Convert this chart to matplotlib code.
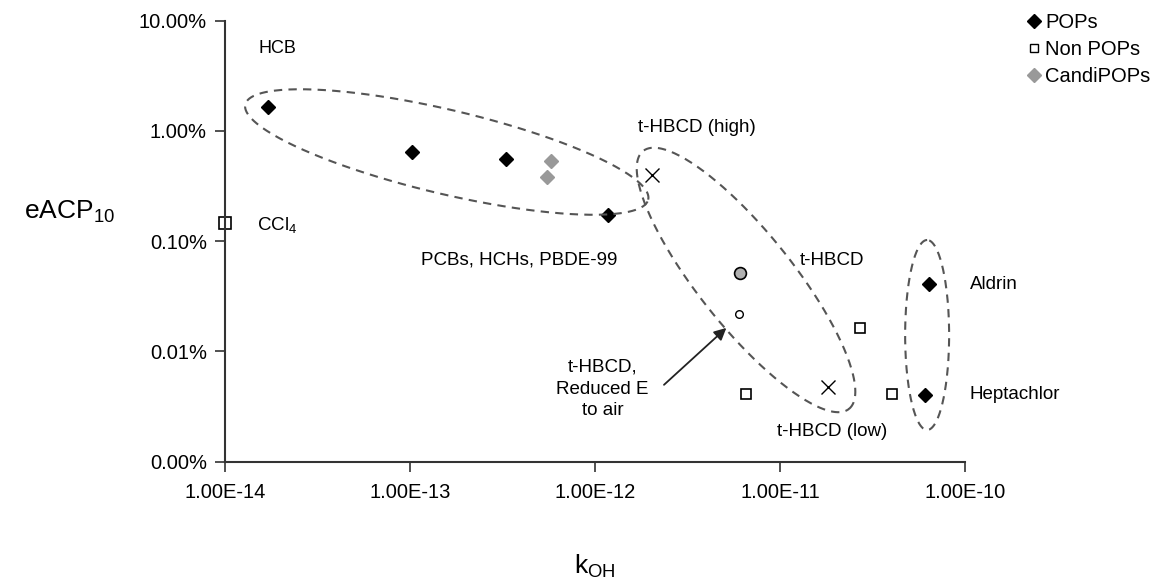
import numpy as np
import matplotlib
matplotlib.use("Agg")
import matplotlib.pyplot as plt
from matplotlib.lines import Line2D

plt.rcParams['font.family'] = ['Liberation Sans', 'DejaVu Sans']
plt.rcParams['mathtext.fontset'] = 'custom'
plt.rcParams['mathtext.rm'] = 'Liberation Sans'
plt.rcParams['mathtext.default'] = 'regular'

# data (kOH, eACP10 as fraction)
pops_k = [1.71e-14, 1.03e-13, 3.29e-13, 1.18e-12, 6.38e-11, 6.08e-11]
pops_e = [1.64e-2, 6.48e-3, 5.53e-3, 1.72e-3, 4.09e-4, 4.03e-5]

nonpops_k = [6.55e-12, 2.69e-11, 4.02e-11]
nonpops_e = [4.11e-5, 1.64e-4, 4.11e-5]

ccl4_k = [1.0e-14]
ccl4_e = [1.45e-3]

candi_k = [5.77e-13, 5.52e-13]
candi_e = [5.37e-3, 3.80e-3]

hbcd_k = [2.02e-12, 1.82e-11]      # high / low
hbcd_e = [3.98e-3, 4.79e-5]

hbcd_mid_k = [6.08e-12]
hbcd_mid_e = [5.18e-4]
hbcd_red_k = [6.0e-12]
hbcd_red_e = [2.19e-4]

fig = plt.figure(figsize=(11.61, 5.88), dpi=100)
ax = fig.add_axes([0.1938, 0.2148, 0.6374, 0.75])

ax.plot(pops_k, pops_e, 'D', color='black', ms=7, ls='none')
ax.plot(nonpops_k, nonpops_e, 's', mfc='white', mec='black', ms=6.5, mew=1.2, ls='none')
ax.plot(ccl4_k, ccl4_e, 's', mfc='white', mec='black', ms=9, mew=1.2, ls='none', clip_on=False)
ax.plot(candi_k, candi_e, 'D', color='#999999', ms=7, ls='none')
ax.plot(hbcd_k, hbcd_e, 'x', color='black', ms=10, mew=1, ls='none')
ax.plot(hbcd_mid_k, hbcd_mid_e, 'o', mfc='#b0b0b0', mec='black', ms=8.5, mew=1.2, ls='none')
ax.plot(hbcd_red_k, hbcd_red_e, 'o', mfc='white', mec='black', ms=5.5, mew=1, ls='none')

ax.set_xscale('log')
ax.set_yscale('log')
ax.set_xlim(1e-14, 1e-10)
ax.set_ylim(1e-5, 1e-1)

# dashed group ellipses, drawn in pixel-like space so they stay round on log axes
W = fig.get_figwidth() * fig.dpi * 0.6374 / 4      # px per x decade
H = fig.get_figheight() * fig.dpi * 0.75 / 4       # px per y decade


def ellipse(cx, cy, a, b, ang):
    t = np.linspace(0, 2 * np.pi, 300)
    th = np.deg2rad(ang)
    px = a * np.cos(t) * np.cos(th) - b * np.sin(t) * np.sin(th)
    py = a * np.cos(t) * np.sin(th) + b * np.sin(t) * np.cos(th)
    ax.plot(10 ** (np.log10(cx) + px / W), 10 ** (np.log10(cy) + py / H),
            ls=(0, (4, 3)), color='#555555', lw=1.5, clip_on=False)


ellipse(1.58e-13, 6.44e-3, 207, 42, -13.3)
ellipse(6.55e-12, 4.45e-4, 165, 47, -51.4)
ellipse(6.24e-11, 1.41e-4, 95, 22, 90)

fs = 13.5
ax.text(1.93e-14, 5.65e-2, 'HCB', ha='center', va='center', fontsize=13)
ax.text(1.48e-14, 1.40e-3, 'CCl$_4$', ha='left', va='center', fontsize=fs)
ax.text(3.9e-13, 6.75e-4, 'PCBs, HCHs, PBDE-99', ha='center', va='center', fontsize=fs)
ax.text(3.56e-12, 1.064e-2, 't-HBCD (high)', ha='center', va='center', fontsize=fs)
ax.text(1.91e-11, 6.75e-4, 't-HBCD', ha='center', va='center', fontsize=fs)
ax.text(1.91e-11, 1.86e-5, 't-HBCD (low)', ha='center', va='center', fontsize=fs)
ax.text(1.06e-10, 4.09e-4, 'Aldrin', ha='left', va='center', fontsize=fs)
ax.text(1.06e-10, 4.03e-5, 'Heptachlor', ha='left', va='center', fontsize=fs)
ax.text(1.10e-12, 4.56e-5, 't-HBCD,\nReduced E\nto air', ha='center', va='center',
        fontsize=fs, linespacing=1.35)
ax.annotate('', xy=(5.26e-12, 1.70e-4), xytext=(2.30e-12, 4.79e-5),
            arrowprops=dict(arrowstyle='-|>', color='#222222', lw=1.3, mutation_scale=18))

for s in ['top', 'right']:
    ax.spines[s].set_visible(False)
for s in ['left', 'bottom']:
    ax.spines[s].set_linewidth(1.5)
    ax.spines[s].set_color('#333333')

ax.set_xticks([1e-14, 1e-13, 1e-12, 1e-11, 1e-10])
ax.set_xticklabels(['1.00E-14', '1.00E-13', '1.00E-12', '1.00E-11', '1.00E-10'])
ax.set_yticks([1e-5, 1e-4, 1e-3, 1e-2, 1e-1])
ax.set_yticklabels(['0.00%', '0.01%', '0.10%', '1.00%', '10.00%'])
ax.minorticks_off()
ax.tick_params(axis='both', labelsize=14.5, length=7, width=1.2, color='#333333')
ax.tick_params(axis='x', pad=8)
ax.tick_params(axis='y', pad=6)

fig.text(0.06, 1 - 212 / 588, 'eACP$_{10}$', ha='center', va='center', fontsize=19)
fig.text(595 / 1161, 1 - 566 / 588, 'k$_{OH}$', ha='center', va='center', fontsize=19)

handles = [
    Line2D([], [], marker='D', color='black', ls='none', ms=7),
    Line2D([], [], marker='s', mfc='white', mec='black', ls='none', ms=6),
    Line2D([], [], marker='D', color='#999999', ls='none', ms=7),
]
fig.legend(handles, ['POPs', 'Non POPs', 'CandiPOPs'], loc='upper left',
           bbox_to_anchor=(1010 / 1161, 1 + 5 / 588), frameon=False, fontsize=14.5,
           handlelength=0.6, handletextpad=0.25, labelspacing=0.4)

fig.savefig('out.png', dpi=100)
